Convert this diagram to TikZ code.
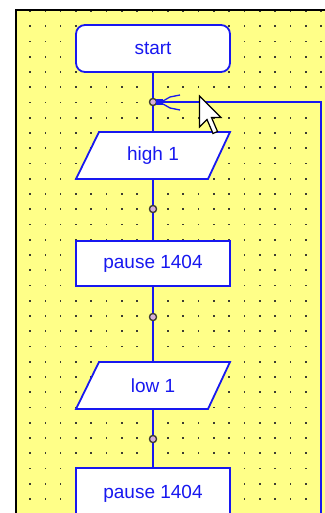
\documentclass[tikz,border=0pt]{standalone}
\usepackage{fontspec}
\setmainfont{Liberation Sans}
\definecolor{paneyel}{RGB}{255,255,136}
\definecolor{flowblue}{RGB}{24,24,240}
\definecolor{dotgray}{RGB}{60,60,50}
\definecolor{jfill}{RGB}{215,175,215}
\tikzset{
  flowline/.style={draw=flowblue, line width=1.8pt},
  boxshape/.style={draw=flowblue, fill=white, line width=1.8pt},
  lbl/.style={text=flowblue, font=\fontsize{19}{19}\selectfont, inner sep=0pt, outer sep=0pt},
  rectbox/.style={lbl, boxshape, minimum width=154pt, minimum height=45pt},
  ghostbox/.style={lbl, minimum width=154pt, minimum height=47pt},
  junc/.style={circle, draw=dotgray, fill=jfill, line width=1.2pt, minimum size=7pt, inner sep=0pt},
}
\begin{document}
\begin{tikzpicture}[x=1pt,y=-1pt]
\useasboundingbox (0,0) rectangle (324,513);
% panel
\fill[white] (0,0) rectangle (324,513);
\fill[paneyel] (16,10) rectangle (340,530);
\begin{scope}
\clip (17,11) rectangle (340,530);
\foreach \k in {0,...,19} {
  \foreach \m in {0,...,33} {
    \fill[dotgray] ({30+15.32*\k-0.8},{11+15.25*\m-0.8}) rectangle +(1.6,1.6);
  }
}
\end{scope}
\draw[black, line width=1.5pt] (16,530) -- (16,10) -- (340,10);

% nodes
\node[lbl, draw=flowblue, fill=white, line width=1.8pt, rounded corners=9pt,
      minimum width=154pt, minimum height=47pt] (start) at (153,48.5) {start};
\node[junc] (j1) at (153,102) {};
\node[ghostbox] (hi) at (153,155.5) {};
\node[junc] (j2) at (153,209) {};
\node[rectbox] (p1) at (153,263.5) {pause 1404};
\node[junc] (j3) at (153,317) {};
\node[ghostbox] (lo) at (153,385.5) {};
\node[junc] (j4) at (153,439) {};
\node[rectbox, minimum height=52pt] (p2) at (153,494) {pause 1404};

% parallelograms
\draw[boxshape] ([xshift=23pt]hi.north west) -- (hi.north east) -- ([xshift=-22pt]hi.south east) -- (hi.south west) -- cycle;
\node[lbl] at (hi.center) {high 1};
\draw[boxshape] ([xshift=23pt]lo.north west) -- (lo.north east) -- ([xshift=-22pt]lo.south east) -- (lo.south west) -- cycle;
\node[lbl] at (lo.center) {low 1};

% connectors
\coordinate (lr) at (321,102);
\coordinate (lb) at (321,530);
\draw[flowline] (start.south) -- (j1.north);
\draw[flowline] (j1.south) -- (hi.north);
\draw[flowline] (hi.south) -- (j2.north);
\draw[flowline] (j2.south) -- (p1.north);
\draw[flowline] (p1.south) -- (j3.north);
\draw[flowline] (j3.south) -- (lo.north);
\draw[flowline] (lo.south) -- (j4.north);
\draw[flowline] (j4.south) -- (p2.north);
\draw[flowline] (j1.east) -- (lr) -- (lb);
\draw[flowline] (j1.center) -- ++(0,-6);
\draw[flowline] (j1.center) -- ++(0,6);
% redraw junctions on top
\foreach \j in {j1,j2,j3,j4} { \node[junc] at (\j) {}; }

% selection marker at j1
\fill[flowblue] (155.5,99.5) rectangle (163,105);
\draw[flowblue, line width=1.3pt] (163,101) -- (170,97) -- (180,95);
\draw[flowblue, line width=1.3pt] (163,104) -- (170,108) -- (180,110);

% mouse pointer
\draw[black, fill=white, line width=1.2pt, line join=miter]
  (199.5,96) -- (199.5,127) -- (207,119.5) -- (213,133.5) -- (217.5,131.5) -- (211.5,117.5) -- (221,117.5) -- cycle;
\end{tikzpicture}
\end{document}
